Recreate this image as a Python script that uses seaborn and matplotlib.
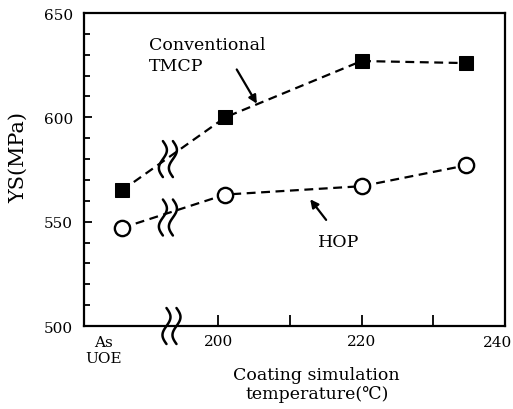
import numpy as np
import pandas as pd
import seaborn as sns
import matplotlib.pyplot as plt
import matplotlib.transforms as mtransforms
from matplotlib.ticker import MultipleLocator

# 数据
x_pos = [186.6, 201.0, 220.0, 234.6]          # 第一个点 = "As UOE"
ys_tmcp = [565, 600, 627, 626]
ys_hop = [547, 563, 567, 577]
x_ticks = [200, 210, 220, 230, 240]
x_ticklabels = ['200', '', '220', '', '']
y_ticks = [500, 550, 600, 650]

df = pd.DataFrame({'T': x_pos * 2,
                   'YS': ys_tmcp + ys_hop,
                   'steel': ['Conventional TMCP'] * 4 + ['HOP'] * 4})

sns.set_style('white')
plt.rcParams['font.family'] = ['DejaVu Serif', 'DejaVu Sans']
plt.rcParams.update({'text.color': 'black', 'axes.labelcolor': 'black',
                     'xtick.color': 'black', 'ytick.color': 'black'})

fig = plt.figure(figsize=(5.13, 4.10), dpi=100)
ax = fig.add_axes([0.1637, 0.2024, 0.8207, 0.7634])
ax.set_xlim(181.3, 240)
ax.set_ylim(500, 650)
ax.autoscale(False)

dash = (0, (4, 2.5))
sns.lineplot(data=df[df.steel == 'Conventional TMCP'], x='T', y='YS', ax=ax,
             color='black', ls=dash, lw=1.6, marker='s', markersize=10.5,
             markerfacecolor='black', markeredgecolor='black', zorder=3)
sns.lineplot(data=df[df.steel == 'HOP'], x='T', y='YS', ax=ax,
             color='black', ls=dash, lw=1.6, marker='o', markersize=11,
             markerfacecolor='white', markeredgecolor='black',
             markeredgewidth=1.7, zorder=3)

# 断轴符号
def draw_break(xd, yd):
    u = np.linspace(0, 1, 60)
    off = mtransforms.ScaledTranslation(xd, yd, ax.transData)
    for dx in (-0.05, 0.05):
        ax.plot(dx + 0.04 * np.sin(2 * np.pi * u), 0.18 - 0.36 * u,
                color='black', lw=1.8, transform=fig.dpi_scale_trans + off,
                clip_on=False, zorder=4)

draw_break(193.0, 580)
draw_break(193.0, 552)
draw_break(193.5, 500)

# 注释
ax.text(190.3, 639, 'Conventional\nTMCP', ha='left', va='top',
        fontsize=12.5, linespacing=1.3)
ax.annotate('', xy=(205.6, 605.4), xytext=(202.4, 624.1),
            arrowprops=dict(arrowstyle='-|>', color='black', lw=1.6,
                            mutation_scale=12))
ax.text(216.8, 540.7, 'HOP', ha='center', va='center', fontsize=12.5)
ax.annotate('', xy=(212.6, 561.8), xytext=(215.3, 549.8),
            arrowprops=dict(arrowstyle='-|>', color='black', lw=1.6,
                            mutation_scale=12))

# 坐标轴
ax.set_xticks(x_ticks)
ax.set_xticklabels(x_ticklabels, fontsize=11)
# "As UOE" 与 240 标签单独放置（240 稍向左移，避免被裁掉）
ax.annotate('As\nUOE', xy=(184.0, 0), xycoords=('data', 'axes fraction'),
            xytext=(0, -6.5), textcoords='offset points',
            ha='center', va='top', fontsize=11, linespacing=1.15)
ax.annotate('240', xy=(240, 0), xycoords=('data', 'axes fraction'),
            xytext=(-5, -6.5), textcoords='offset points',
            ha='center', va='top', fontsize=11)
ax.set_yticks(y_ticks)
ax.yaxis.set_minor_locator(MultipleLocator(10))
ax.tick_params(axis='x', direction='in', length=8, width=1.3, pad=6,
               bottom=True, top=False)
ax.tick_params(axis='y', which='both', direction='in', width=1.3,
               left=True, right=False, labelsize=11, pad=8)
ax.tick_params(axis='y', which='major', length=6)
ax.tick_params(axis='y', which='minor', length=4)
for s in ax.spines.values():
    s.set_linewidth(1.6)
    s.set_color('black')

ax.set_ylabel('YS(MPa)', fontsize=15)
ax.yaxis.set_label_coords(-0.133, 0.54)
ax.set_xlabel('Coating simulation\ntemperature(℃)', fontsize=12.5,
              linespacing=1.15)
ax.xaxis.set_label_coords(0.553, -0.128)
ax.xaxis.label.set_va('top')

plt.savefig('out.png', dpi=100)
